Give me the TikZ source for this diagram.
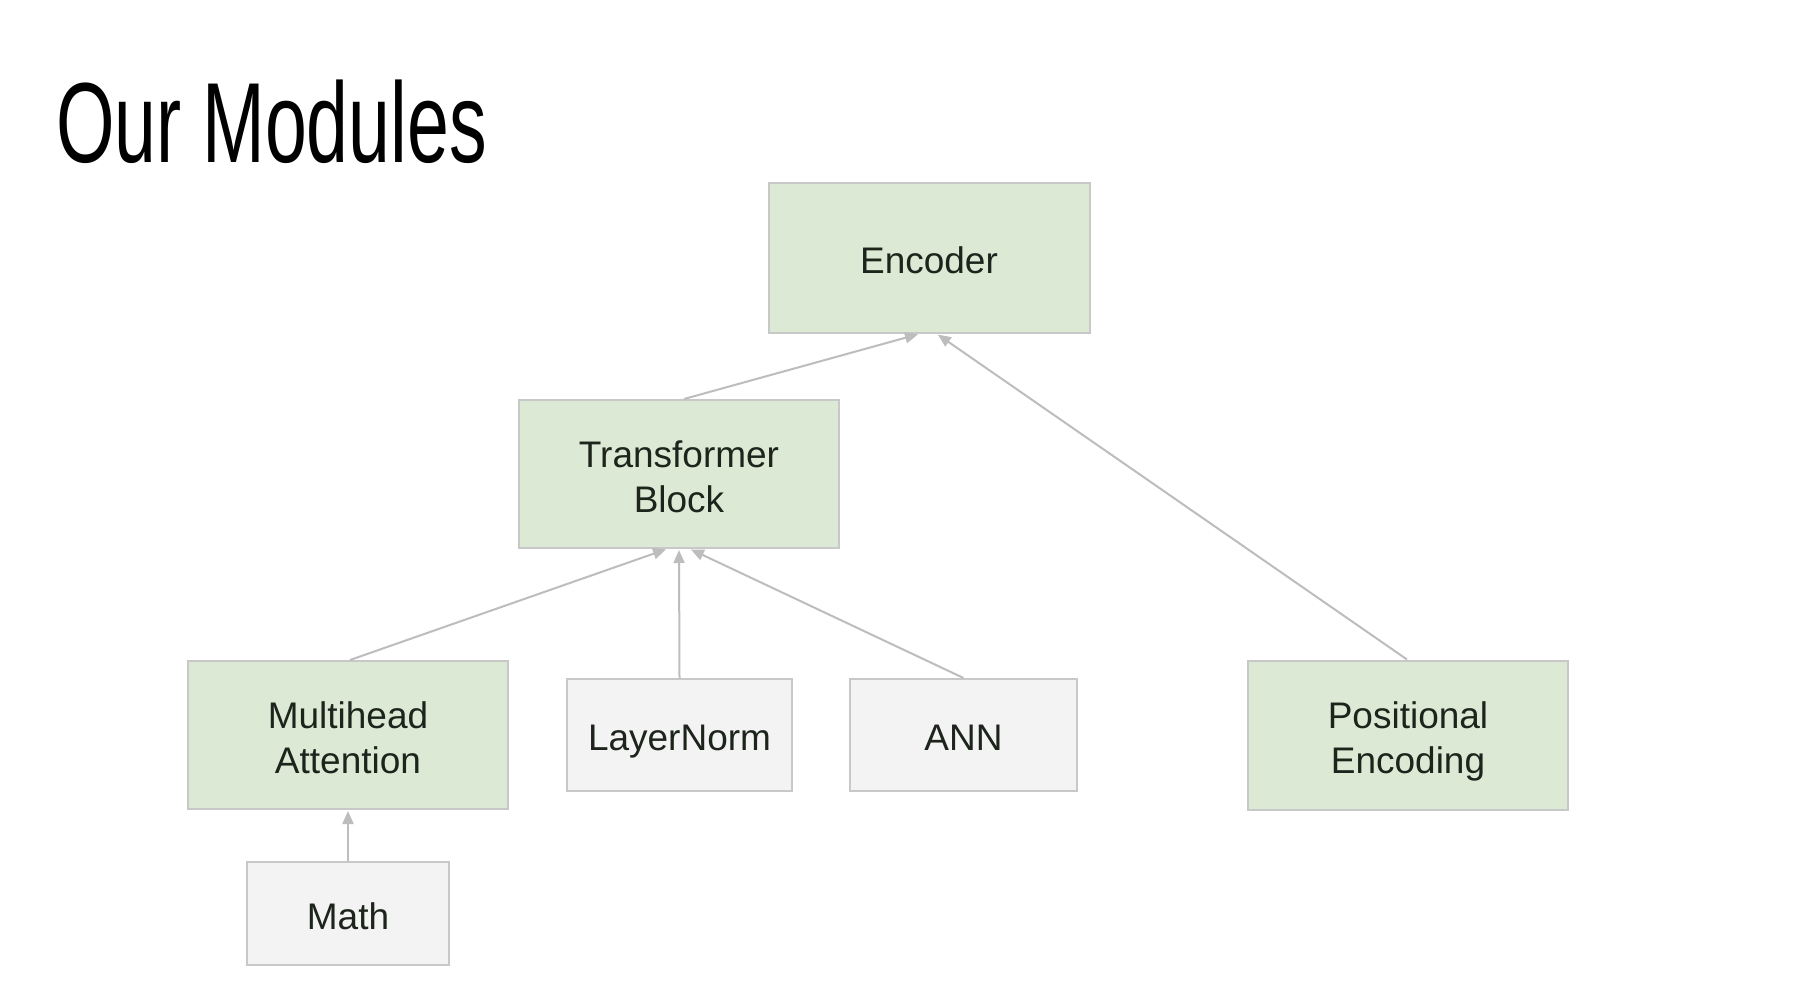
\documentclass[tikz,border=0pt]{standalone}
\usepackage{fontspec}
\setmainfont{Liberation Sans}
\newfontfamily\titlefont[FakeStretch=0.66]{Liberation Sans}
\usetikzlibrary{arrows.meta}
\definecolor{boxgreen}{HTML}{DCEAD5}
\definecolor{boxgray}{HTML}{F3F3F3}
\definecolor{boxline}{HTML}{C8C8C8}
\definecolor{arrowgray}{HTML}{BDBDBD}
\definecolor{txt}{HTML}{1C241C}
\newcommand\lnstrut{\rule[-0.2em]{0pt}{1.12em}}
\newcommand\fstrut{\rule[-0.2em]{0pt}{1.26em}}
\tikzset{
  modbox/.style={draw=boxline, line width=2pt, inner sep=0pt, align=center, text=txt,
     font=\fontsize{37}{45}\selectfont},
  greenbox/.style={modbox, fill=boxgreen},
  graybox/.style={modbox, fill=boxgray},
  conn/.style={draw=arrowgray, line width=2pt, -{Triangle[length=13pt,width=11pt]}, shorten >=1pt}
}
\begin{document}
\begin{tikzpicture}[x=1pt,y=-1pt]
\useasboundingbox[fill=white] (0,0) rectangle (1802,1008);
\node[anchor=base west, inner sep=0pt, font=\titlefont\fontsize{114}{120}\selectfont] (title) at (56,163) {Our Modules};

\node[greenbox, minimum width=321pt, minimum height=150pt] (enc) at (929,258) {\fstrut Encoder};
\node[greenbox, minimum width=320pt, minimum height=148pt] (tb) at (679,474) {\fstrut Transformer\\\lnstrut Block};
\node[greenbox, minimum width=320pt, minimum height=148pt] (mh) at (348,735) {\fstrut Multihead\\\lnstrut Attention};
\node[graybox, minimum width=225pt, minimum height=112pt] (ln) at (679.5,735) {\fstrut LayerNorm};
\node[graybox, minimum width=227pt, minimum height=112pt] (ann) at (963.5,735) {\fstrut ANN};
\node[greenbox, minimum width=320pt, minimum height=149pt] (pe) at (1408,735) {\fstrut Positional\\\lnstrut Encoding};
\node[graybox, minimum width=202pt, minimum height=103pt] (math) at (348,913.5) {\fstrut Math};

\draw[conn] (tb.north -| 684,0) -- (enc.south -| 919,0);
\draw[conn] (pe.north -| 1407,0) -- (enc.south -| 937,0);
\draw[conn] (mh.north -| 350,0) -- (tb.south -| 667,0);
\draw[conn] (ln.north) -- (tb.south);
\draw[conn] (ann.north) -- (tb.south -| 690,0);
\draw[conn] (math.north) -- (mh.south);
\end{tikzpicture}
\end{document}
